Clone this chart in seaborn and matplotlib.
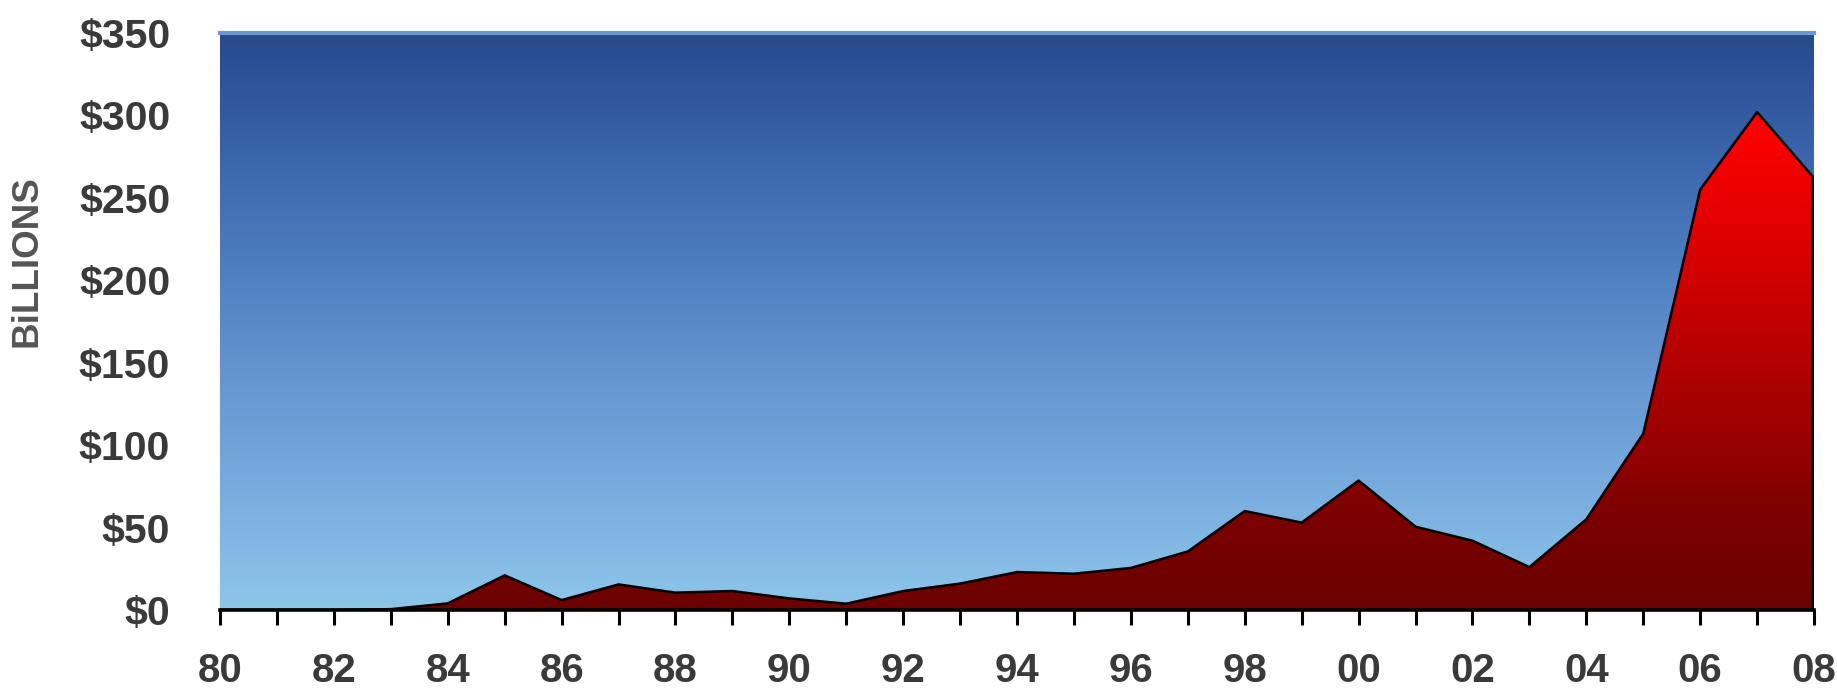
import numpy as np
import pandas as pd
import matplotlib
matplotlib.use("Agg")
import matplotlib.pyplot as plt
from matplotlib.colors import LinearSegmentedColormap
import seaborn as sns

# Annual totals, billions of dollars
years = list(range(1980, 2009))
values = [0, 0, 0, 0.5, 4, 21, 6, 15.5, 10.5, 11.5, 7, 3.8, 11.5, 16, 23, 22,
          25.5, 35.5, 60, 53, 78.5, 50.5, 42, 26, 55, 107, 255, 302, 262]
y_ticks = [0, 50, 100, 150, 200, 250, 300, 350]
y_tick_labels = ["$0", "$50", "$100", "$150", "$200", "$250", "$300", "$350"]
x_tick_years = list(range(1980, 2009, 2))
x_tick_labels = [f"{y % 100:02d}" for y in x_tick_years]
y_title = "BiLLIONS"

df = pd.DataFrame({"year": years, "value": values})

sns.set_style("white")
plt.rcParams["font.family"] = ["Liberation Sans", "DejaVu Sans"]
plt.rcParams["font.weight"] = "bold"

fig = plt.figure(figsize=(18.37, 6.89), dpi=100)
ax = fig.add_axes([0.1198, 0.1147, 0.8677, 0.8374])

x0, x1 = years[0], years[-1]
y0, y1 = y_ticks[0], y_ticks[-1]

# Sky-blue vertical gradient behind the plot
sky = LinearSegmentedColormap.from_list(
    "sky",
    [(0.0, "#8ec6ea"), (0.2, "#79addf"), (0.4, "#6596d1"),
     (0.6, "#4e7ebf"), (0.8, "#3963aa"), (0.93, "#2d5299"), (1.0, "#274a8a")])
grad = np.linspace(0, 1, 400).reshape(-1, 1)
ax.imshow(grad, extent=[x0, x1, y0, y1], origin="lower", aspect="auto",
          cmap=sky, zorder=0, interpolation="bicubic")

# Red area: gradient image clipped to the area under the series
coll = ax.fill_between(df["year"], df["value"], 0, facecolor="none",
                       edgecolor="none", zorder=1)
reds = LinearSegmentedColormap.from_list(
    "reds", [(0.0, "#6c0000"), (0.15, "#7a0000"), (0.3, "#9a0000"),
             (0.7, "#e80000"), (0.85, "#ff0000"), (1.0, "#ff0000")])
red_img = ax.imshow(grad, extent=[x0, x1, y0, y1], origin="lower",
                    aspect="auto", cmap=reds, zorder=2,
                    interpolation="bicubic")
red_img.set_clip_path(coll.get_paths()[0], ax.transData)

# Black outline along the top of the area and its right edge
sns.lineplot(data=df, x="year", y="value", color="black", linewidth=1.8,
             ax=ax, zorder=3)
ax.vlines(df["year"].iloc[-1], 0, df["value"].iloc[-1], color="black",
          linewidth=4, zorder=3)

ax.set_xlim(x0, x1)
ax.set_ylim(y0, y1)

# Axes styling
for side in ["left", "right"]:
    ax.spines[side].set_visible(False)
ax.spines["top"].set_color("#7196d4")
ax.spines["top"].set_linewidth(3)
ax.spines["bottom"].set_color("black")
ax.spines["bottom"].set_linewidth(2.6)
ax.spines["bottom"].set_zorder(5)

ax.set_xticks(x_tick_years)
ax.set_xticklabels(x_tick_labels)
ax.set_xticks(years, minor=True)
ax.tick_params(axis="x", which="both", direction="out", length=11, width=2.2,
               color="black", bottom=True)
ax.tick_params(axis="x", which="major", labelsize=29, pad=19,
               labelcolor="#3a3a3a")

ax.set_yticks(y_ticks)
ax.set_yticklabels(y_tick_labels)
ax.tick_params(axis="y", length=0, labelsize=29.5, pad=36, labelcolor="#3a3a3a")
for lbl in ax.get_xticklabels() + ax.get_yticklabels():
    lbl.set_fontweight("bold")

ax.set_xlabel("")
ax.set_ylabel("")
fig.text(0.0147, 0.621, y_title, rotation=90, ha="center", va="center",
         fontsize=26.5, fontweight="bold", color="#555555")
ax.grid(False)

fig.savefig("out.png", dpi=100)
